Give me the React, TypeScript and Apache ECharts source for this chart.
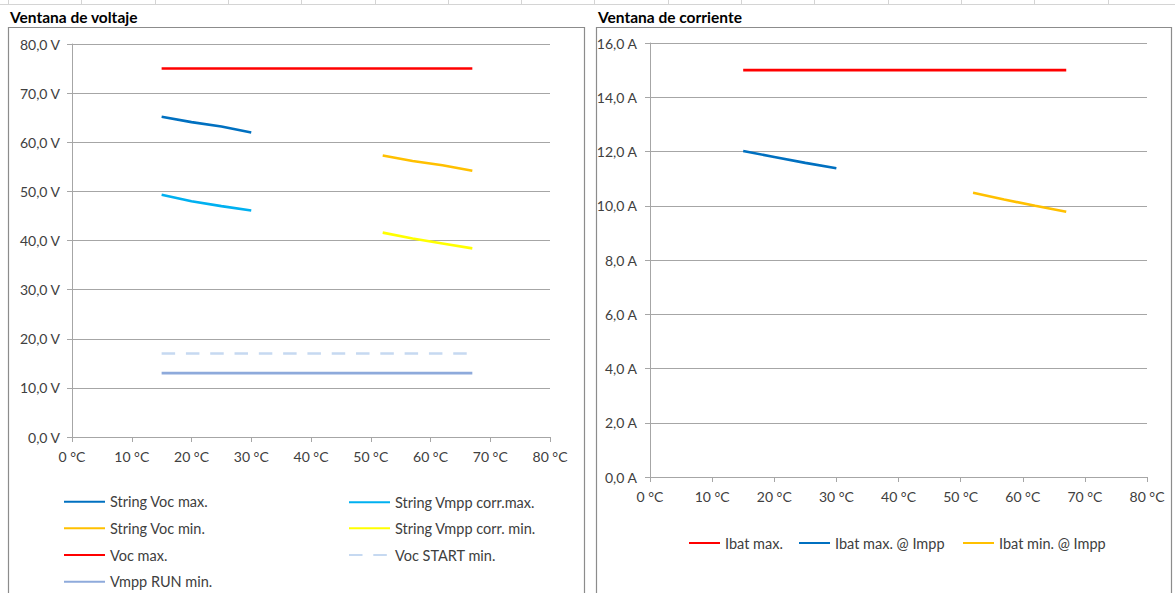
import React, { useEffect, useRef } from "react";
import * as echarts from "echarts";

// ---- Data ----
const tempsCold = [15, 20, 25, 30];
const tempsHot = [52, 57, 62, 67];
const tempsSpan = [15, 67];

const stringVocMax = [65.2, 64.1, 63.2, 62.0];
const stringVmppCorrMax = [49.3, 48.0, 47.0, 46.1];
const stringVocMin = [57.3, 56.2, 55.3, 54.2];
const stringVmppCorrMin = [41.6, 40.4, 39.4, 38.4];
const vocMax = [75, 75];
const vocStartMin = [17, 17];
const vmppRunMin = [13, 13];

const ibatMax = [15, 15];
const ibatMaxImpp = [12.02, 11.8, 11.58, 11.38];
const ibatMinImpp = [10.48, 10.23, 10.0, 9.78];

const tempTicks = [0, 10, 20, 30, 40, 50, 60, 70, 80];

const voltageNames = [
  "String Voc max.",
  "String Vmpp corr.max.",
  "String Voc min.",
  "String Vmpp corr. min.",
  "Voc max.",
  "Voc START min.",
  "Vmpp RUN min.",
];
const currentNames = ["Ibat max.", "Ibat max. @ Impp", "Ibat min. @ Impp"];

const FONT = "Lato, 'Noto Sans', sans-serif";
const TXT = "#404040";
const GRID = "#a6a6a6";

const pairs = (xs: number[], ys: number[]) => xs.map((x, i) => [x, ys[i]]);

export default function App() {
  const ref = useRef<HTMLDivElement>(null);
  useEffect(() => {
    if (!ref.current) return;
    const chart = echarts.init(ref.current, null, { renderer: "svg" });

    const xAxisBase = (gridIndex: number) => ({
      type: "value",
      gridIndex,
      min: tempTicks[0],
      max: tempTicks[tempTicks.length - 1],
      interval: 10,
      axisLine: { show: true, lineStyle: { color: GRID, width: 1 } },
      axisTick: { show: true, length: 5, lineStyle: { color: GRID } },
      splitLine: { show: false },
      axisLabel: {
        color: TXT,
        fontFamily: FONT,
        fontSize: 14,
        margin: 12,
        formatter: (v: number) => `${v} °C`,
      },
    });

    const line = (
      name: string,
      xs: number[],
      ys: number[],
      color: string,
      idx: number,
      dashed = false
    ) => ({
      name,
      type: "line",
      xAxisIndex: idx,
      yAxisIndex: idx,
      data: pairs(xs, ys),
      symbol: "none",
      smooth: false,
      itemStyle: { color },
      lineStyle: { color, width: 2.6, type: dashed ? [13.5, 10.8] : "solid" },
    });

    const legendItem = (name: string, left: number, cy: number, w: number) => ({
      orient: "horizontal",
      left,
      top: cy - 7.5,
      padding: 0,
      itemWidth: w,
      itemHeight: 14,
      itemTextGap: 4,
      itemStyle: { opacity: 0, borderWidth: 0 },
      textStyle: { color: TXT, fontFamily: FONT, fontSize: 14.5 },
      data: [name],
    });

    const gridMarks: any[] = [];
    for (let i = 0; i < 16; i++) {
      const x = Math.round(8 + i * 73.3) + 0.5;
      gridMarks.push({
        type: "line",
        shape: { x1: x, y1: 0, x2: x, y2: 4 },
        style: { stroke: "#d4d4d4", lineWidth: 1 },
        silent: true,
      });
    }

    chart.setOption({
      animation: false,
      backgroundColor: "#ffffff",
      grid: [
        { left: 72, top: 44, width: 478, height: 393 },
        { left: 650, top: 43, width: 497, height: 434 },
      ],
      xAxis: [xAxisBase(0), xAxisBase(1)],
      yAxis: [
        {
          type: "value",
          gridIndex: 0,
          min: 0,
          max: 80,
          interval: 10,
          axisLine: { show: true, lineStyle: { color: GRID } },
          axisTick: { show: true, length: 5, lineStyle: { color: GRID } },
          splitLine: { show: true, lineStyle: { color: GRID, width: 1 } },
          axisLabel: {
            color: TXT,
            fontFamily: FONT,
            fontSize: 14,
            margin: 12,
            formatter: (v: number) => v.toFixed(1).replace(".", ",") + " V",
          },
        },
        {
          type: "value",
          gridIndex: 1,
          min: 0,
          max: 16,
          interval: 2,
          axisLine: { show: true, lineStyle: { color: GRID } },
          axisTick: { show: true, length: 5, lineStyle: { color: GRID } },
          splitLine: { show: true, lineStyle: { color: GRID, width: 1 } },
          axisLabel: {
            color: TXT,
            fontFamily: FONT,
            fontSize: 14,
            margin: 13,
            formatter: (v: number) => v.toFixed(1).replace(".", ",") + " A",
          },
        },
      ],
      legend: [
        legendItem(voltageNames[0], 63, 501.7, 41),
        legendItem(voltageNames[2], 63, 528.3, 41),
        legendItem(voltageNames[4], 63, 555, 41),
        legendItem(voltageNames[6], 63, 581.7, 41),
        legendItem(voltageNames[1], 348, 502.3, 41),
        legendItem(voltageNames[3], 348, 528.3, 41),
        legendItem(voltageNames[5], 348, 555, 41),
        legendItem(currentNames[0], 688, 543, 31),
        legendItem(currentNames[1], 798, 543, 31),
        legendItem(currentNames[2], 962, 543, 31),
      ],
      graphic: [
        {
          type: "line",
          shape: { x1: 0, y1: 4.5, x2: 1175, y2: 4.5 },
          style: { stroke: "#d4d4d4", lineWidth: 1 },
          silent: true,
        },
        ...gridMarks,
        {
          type: "rect",
          shape: { x: 8.5, y: 27.5, width: 576, height: 600 },
          style: { fill: "none", stroke: "#8c8c8c", lineWidth: 1.2 },
          silent: true,
        },
        {
          type: "rect",
          shape: { x: 596.5, y: 27.5, width: 575, height: 600 },
          style: { fill: "none", stroke: "#8c8c8c", lineWidth: 1.2 },
          silent: true,
        },
        {
          type: "text",
          x: 10,
          y: 17,
          style: {
            text: "Ventana de voltaje",
            fill: "#000000",
            font: `bold 15.5px ${FONT}`,
            verticalAlign: "middle",
          },
        },
        {
          type: "text",
          x: 598,
          y: 17,
          style: {
            text: "Ventana de corriente",
            fill: "#000000",
            font: `bold 15.5px ${FONT}`,
            verticalAlign: "middle",
          },
        },
      ],
      series: [
        line(voltageNames[0], tempsCold, stringVocMax, "#0070c0", 0),
        line(voltageNames[1], tempsCold, stringVmppCorrMax, "#00b0f0", 0),
        line(voltageNames[2], tempsHot, stringVocMin, "#ffc000", 0),
        line(voltageNames[3], tempsHot, stringVmppCorrMin, "#ffff00", 0),
        line(voltageNames[4], tempsSpan, vocMax, "#ff0000", 0),
        line(voltageNames[5], tempsSpan, vocStartMin, "#c6d9f1", 0, true),
        line(voltageNames[6], tempsSpan, vmppRunMin, "#8eaadb", 0),
        line(currentNames[0], tempsSpan, ibatMax, "#ff0000", 1),
        line(currentNames[1], tempsCold, ibatMaxImpp, "#0070c0", 1),
        line(currentNames[2], tempsHot, ibatMinImpp, "#ffc000", 1),
      ],
    });
    return () => chart.dispose();
  }, []);

  return (
    <div
      ref={ref}
      style={{ position: "fixed", left: 0, top: 0, width: 1175, height: 593, background: "#fff" }}
    />
  );
}
